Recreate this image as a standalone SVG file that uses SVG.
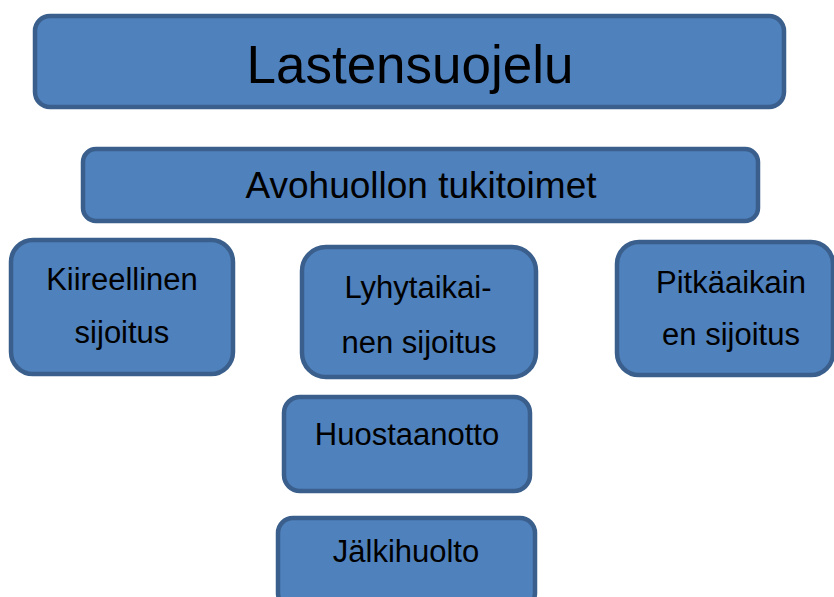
<svg xmlns="http://www.w3.org/2000/svg" width="834" height="597" viewBox="0 0 834 597">
<style>
.box{fill:#4F81BD;stroke:#3A5F8C;stroke-width:4.5}
.t{font-family:"Liberation Sans",Arial,sans-serif;fill:#000;text-anchor:middle}
.s{font-size:31px}
</style>
<rect width="834" height="597" fill="#fff"/>
<g id="connectors"/>
<g id="n-lastensuojelu">
<rect class="box" x="35" y="16" width="749" height="91" rx="15"/>
<text class="t" x="410" y="83" font-size="53">Lastensuojelu</text>
</g>
<g id="n-avohuolto">
<rect class="box" x="83" y="149" width="675" height="72" rx="13"/>
<text class="t" x="421" y="198" font-size="37">Avohuollon tukitoimet</text>
</g>
<g id="n-kiireellinen">
<rect class="box" x="11" y="240" width="222" height="134" rx="22"/>
<text class="t s" x="122" y="290">Kiireellinen</text>
<text class="t s" x="122" y="343">sijoitus</text>
</g>
<g id="n-lyhytaikainen">
<rect class="box" x="302" y="247" width="234" height="130" rx="24"/>
<text class="t s" x="418" y="298">Lyhytaikai-</text>
<text class="t s" x="419" y="353">nen sijoitus</text>
</g>
<g id="n-pitkaaikainen">
<rect class="box" x="617" y="242" width="216" height="133" rx="22"/>
<text class="t s" x="731" y="293">Pitkäaikain</text>
<text class="t s" x="731" y="345">en sijoitus</text>
</g>
<g id="n-huostaanotto">
<rect class="box" x="284" y="397" width="246" height="94" rx="16"/>
<text class="t s" x="407" y="445">Huostaanotto</text>
</g>
<g id="n-jalkihuolto">
<rect class="box" x="278" y="518" width="257" height="90" rx="15"/>
<text class="t s" x="406" y="562">Jälkihuolto</text>
</g>
</svg>
